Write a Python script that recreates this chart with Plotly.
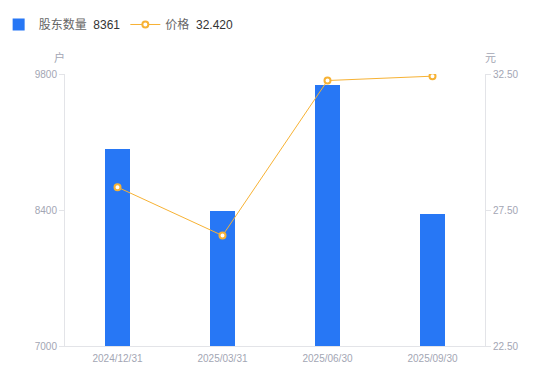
import plotly.graph_objects as go

categories = ["2024/12/31", "2025/03/31", "2025/06/30", "2025/09/30"]
holders = [9031, 8393, 9685, 8361]
prices = [28.34, 26.56, 32.26, 32.42]
left_ticks = [7000, 8400, 9800]
right_ticks = [22.5, 27.5, 32.5]

BLUE = "#2777f5"
ORANGE = "#f7b234"
TICK = "#a3a6b4"
AXIS = "#e3e4e8"
FONT = "Liberation Sans, Noto Sans CJK SC, sans-serif"

fig = go.Figure()
fig.add_trace(go.Bar(
    x=categories, y=holders, width=0.238, marker=dict(color=BLUE, line=dict(width=0)),
    name="股东数量  <span style='color:#333333'>" + str(holders[-1]) + "</span>",
    yaxis="y",
))
fig.add_trace(go.Scatter(
    x=categories, y=prices, mode="lines+markers",
    line=dict(color=ORANGE, width=1),
    marker=dict(size=6, color="white", line=dict(color=ORANGE, width=2)),
    name="价格  <span style='color:#333333'>" + f"{prices[-1]:.3f}" + "</span>",
    yaxis="y2",
))

# page body has an 8px margin: figure is sized to fit the 550x381 window
fig.update_layout(
    width=534, height=365, autosize=False,
    margin=dict(l=57, r=57, t=65.5, b=27.3, pad=0, autoexpand=False),
    plot_bgcolor="white", paper_bgcolor="white",
    font=dict(family=FONT, color="#666666", size=12),
    bargap=0,
    showlegend=True,
    legend=dict(orientation="h", x=-0.158, y=1.182, xanchor="left", yanchor="middle",
                font=dict(size=12, color="#666666"), itemwidth=30,
                bgcolor="rgba(0,0,0,0)", traceorder="normal"),
    xaxis=dict(showline=True, linecolor=AXIS, linewidth=1, showgrid=False, ticks="",
               tickfont=dict(size=10, color=TICK), zeroline=False, fixedrange=True,
               automargin=False, ticklabelstandoff=3),
    yaxis=dict(range=[7000, 9800], tickvals=left_ticks, showgrid=False, zeroline=False,
               showline=True, linecolor=AXIS, linewidth=1, ticks="outside", ticklen=5,
               tickcolor=AXIS, tickfont=dict(size=10, color=TICK), tickformat="d",
               automargin=False),
    yaxis2=dict(range=[22.5, 32.5], tickvals=right_ticks, overlaying="y", side="right",
                showgrid=False, zeroline=False, showline=True, linecolor=AXIS, linewidth=1,
                ticks="outside", ticklen=5, tickcolor=AXIS,
                tickfont=dict(size=10, color=TICK), tickformat=".2f", automargin=False),
    annotations=[
        dict(text="户", xref="paper", yref="paper", x=-0.012, y=1.061, showarrow=False,
             font=dict(size=11, color=TICK, family="Noto Sans CJK SC"),
             xanchor="center", yanchor="middle"),
        dict(text="元", xref="paper", yref="paper", x=1.012, y=1.061, showarrow=False,
             font=dict(size=11, color=TICK, family="Noto Sans CJK SC"),
             xanchor="center", yanchor="middle"),
    ],
)

fig.write_html("out.html")
